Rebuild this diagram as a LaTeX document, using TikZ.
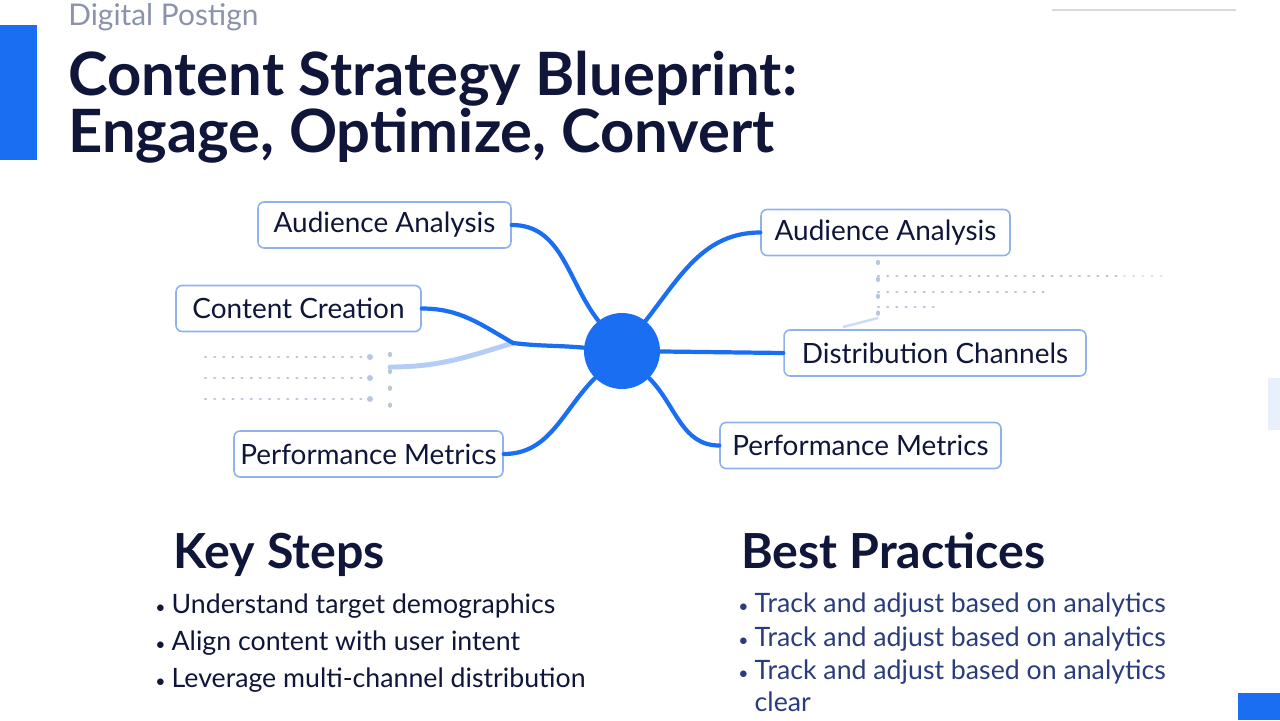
\documentclass[tikz,border=0pt]{standalone}
\usepackage{fontspec}
\setmainfont{Lato}
\usepackage{xcolor}
\usetikzlibrary{positioning}

\definecolor{brandblue}{HTML}{1A6EF2}
\definecolor{navy}{HTML}{10163A}
\definecolor{softnavy}{HTML}{2A3C7E}
\definecolor{boxline}{HTML}{8FB2EC}
\definecolor{dotgray}{HTML}{BAC6DE}
\definecolor{fadeblue}{HTML}{B5CCF5}
\definecolor{kickergray}{HTML}{8A93AB}

\newcommand{\dotitem}{{\fontsize{10}{10}\selectfont\textbullet}\hspace{3.5pt}}

\begin{document}
\begin{tikzpicture}[x=0.02cm,y=0.02cm,
  topic/.style={draw=boxline,line width=0.9pt,rounded corners=3.5pt,fill=white,
                font=\fontsize{15.9}{19}\selectfont,text=navy,
                minimum height=0.92cm,inner sep=0pt},
  link/.style={draw=brandblue,line width=2.4pt,line cap=round},
  fadelink/.style={draw=fadeblue,line width=2.8pt,line cap=round},
  dots/.style={draw=dotgray,line width=1.3pt,dash pattern=on 0.6pt off 4.6pt,line cap=round},
  item/.style={anchor=base west,font=\fontsize{15.2}{18.1}\selectfont,inner sep=0pt,align=left},
  heading/.style={anchor=base west,font=\fontsize{27.5}{32}\bfseries\selectfont,text=navy,inner sep=0pt}
]
\useasboundingbox[fill=white] (0,0) rectangle (1280,-720);

% frame accents
\fill[brandblue] (0,-25) rectangle (37,-160);
\fill[brandblue] (1238,-693) rectangle (1280,-720);
\fill[brandblue!10] (1268,-378) rectangle (1280,-430);
\draw[black!15,line width=0.6pt] (1052,-10) -- (1236,-10);

% title block
\node[anchor=base west,inner sep=0pt,text=kickergray,font=\fontsize{17}{20}\selectfont] (kicker) at (68,-25) {Digital Postign};
\node[anchor=base west,inner sep=0pt,text=navy,font=\fontsize{34}{40}\bfseries\selectfont] (title1) at (68,-95) {Content Strategy Blueprint:};
\node[anchor=base west,inner sep=0pt,text=navy,font=\fontsize{34}{40}\bfseries\selectfont] (title2) at (68,-152) {Engage, Optimize, Convert};

% placeholder dots
\foreach \yy in {357,378,399}{
  \draw[dots] (205,-\yy) -- (366,-\yy);
  \fill[dotgray] (370,-\yy) circle (3);
}
\draw[dots,dash pattern=on 0.6pt off 9pt,line width=2.4pt] (390,-354) -- (390,-420);
\draw[dots] (878,-276) -- (1124,-276);
\draw[dots,draw=dotgray!50] (1124,-276) -- (1168,-276);
\draw[dots] (878,-292) -- (1045,-292);
\draw[dots] (878,-307) -- (935,-307);
\draw[dots,dash pattern=on 0.6pt off 9pt,line width=2.4pt] (878,-262) -- (878,-320);
\draw[draw=fadeblue!70,line width=1.4pt] (843,-327) -- (878,-318);

% mind map
\node[circle,fill=brandblue,minimum size=1.52cm,inner sep=0pt] (hub) at (622,-351) {};

\node[topic,minimum width=5.06cm] (aal) at (384.5,-225) {Audience Analysis};
\node[topic,minimum width=4.90cm] (ccl) at (298.5,-308.5) {Content Creation};
\node[topic,minimum width=5.38cm] (pml) at (368.5,-454) {Performance Metrics};
\node[topic,minimum width=4.98cm] (aar) at (885.5,-232.5) {Audience Analysis};
\node[topic,minimum width=6.04cm] (dcr) at (935,-353) {Distribution Channels};
\node[topic,minimum width=5.62cm] (pmr) at (860.5,-445.5) {Performance Metrics};

\coordinate (jc) at (513,-343);
\coordinate (fadestart) at (390,-367);

\draw[fadelink] (fadestart) to[out=0,in=197] (jc);
\draw[link] (aal.east) to[out=0,in=128] (hub);
\draw[link] (ccl.east) to[out=0,in=150] (jc) to[out=-7,in=175] (hub);
\draw[link] (pml.east) to[out=0,in=225] (hub);
\draw[link] (aar.west) to[out=180,in=52] (hub);
\draw[link] (hub) -- (dcr.west);
\draw[link] (pmr.west) to[out=180,in=-45] (hub);

% lower columns
\node[heading] (steps) at (173,-568) {Key Steps};
\node[item,text=navy] (ks1) at (155,-613) {\dotitem Understand target demographics};
\node[item,text=navy] (ks2) at (155,-650) {\dotitem Align content with user intent};
\node[item,text=navy] (ks3) at (155,-687) {\dotitem Leverage multi-channel distribution};

\node[heading] (practices) at (741,-568) {Best Practices};
\node[item,text=softnavy] (bp1) at (738,-612) {\dotitem Track and adjust based on analytics};
\node[item,text=softnavy] (bp2) at (738,-646) {\dotitem Track and adjust based on analytics};
\node[item,text=softnavy] (bp3) at (738,-711) {\dotitem Track and adjust based on analytics\\\hphantom{\dotitem}clear};
\end{tikzpicture}
\end{document}
